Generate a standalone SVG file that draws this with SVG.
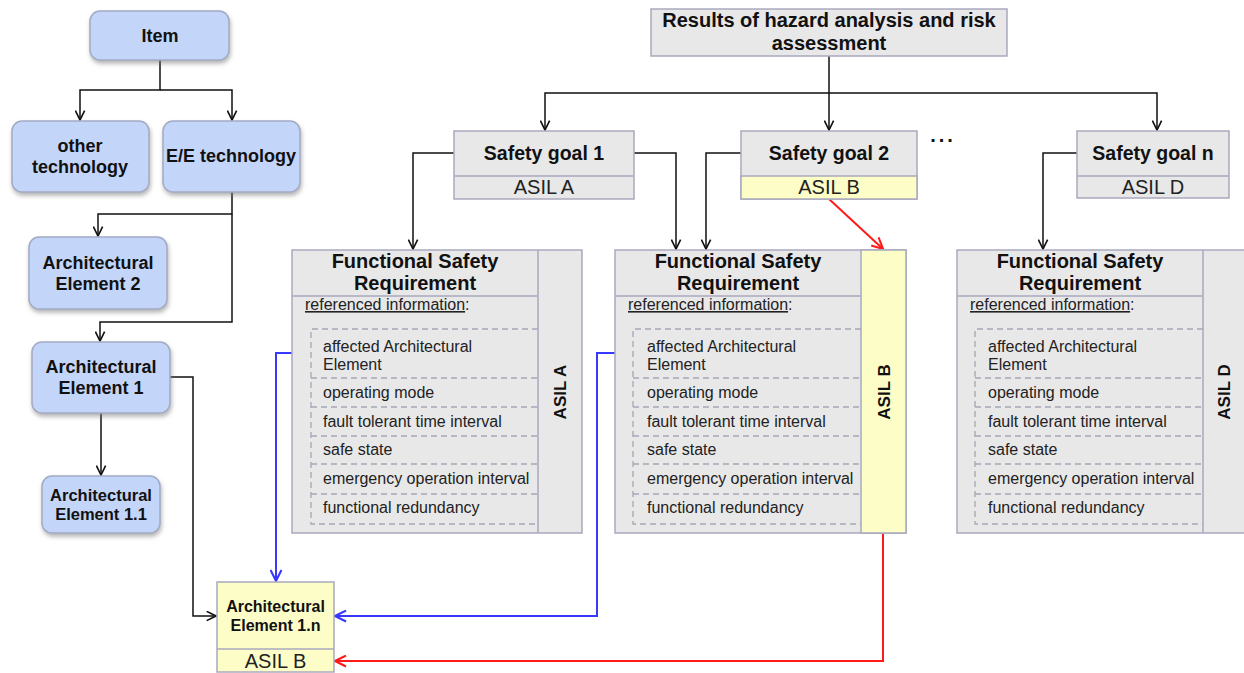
<svg xmlns="http://www.w3.org/2000/svg" width="1244" height="673" viewBox="0 0 1244 673">
  <defs>
    <style>
      .blue { fill: #c4d5fa; stroke: #a3abc4; stroke-width: 1.5; filter: url(#shadow); }
      .gray { fill: #e8e8e8; stroke: #a9a9bf; stroke-width: 1.5; }
      .yel { fill: #fdfdc8; stroke: #a9a9bf; stroke-width: 1.5; }
      .sep { stroke: #a9a9bf; stroke-width: 1.5; fill: none; }
      .dash { stroke: #a6a6b6; stroke-width: 1.3; stroke-dasharray: 6 4; fill: none; }
      text { font-family: "Liberation Sans", Arial, sans-serif; fill: #111; }
      .bt { font-weight: bold; font-size: 18px; text-anchor: middle; }
      .tt { font-weight: bold; font-size: 20px; text-anchor: middle; }
      .asil { font-size: 20px; text-anchor: middle; fill: #222; }
      .item { font-size: 16px; fill: #222; }
      .ref { font-size: 16px; fill: #222; }
      .vasil { font-weight: bold; font-size: 17px; text-anchor: middle; }
      .wire { fill: none; stroke: #111; stroke-width: 1.5; }
      .wb { fill: none; stroke: #3838ff; stroke-width: 2; }
      .wr { fill: none; stroke: #ff1a1a; stroke-width: 2; }
    </style>
    <filter id="shadow" x="-10%" y="-10%" width="125%" height="135%">
      <feDropShadow dx="1" dy="3" stdDeviation="2" flood-color="#7a7a7a" flood-opacity="0.55"/>
    </filter>
    <marker id="ak" viewBox="0 0 10 10" markerUnits="userSpaceOnUse" markerWidth="11" markerHeight="11" refX="9.5" refY="5" orient="auto">
      <path d="M1,0.8 L9.5,5 L1,9.2" fill="none" stroke="#111" stroke-width="1.5"/>
    </marker>
    <marker id="ab" viewBox="0 0 10 10" markerUnits="userSpaceOnUse" markerWidth="13" markerHeight="13" refX="9.5" refY="5" orient="auto">
      <path d="M1,0.8 L9.5,5 L1,9.2" fill="none" stroke="#3838ff" stroke-width="1.6"/>
    </marker>
    <marker id="ar" viewBox="0 0 10 10" markerUnits="userSpaceOnUse" markerWidth="13" markerHeight="13" refX="9.5" refY="5" orient="auto">
      <path d="M1,0.8 L9.5,5 L1,9.2" fill="none" stroke="#ff1a1a" stroke-width="1.6"/>
    </marker>
  </defs>

  <rect width="1244" height="673" fill="#ffffff"/>

  <!-- connectors -->
  <g id="connectors">
    <path class="wire" d="M160,60 V90 H80 V120" marker-end="url(#ak)"/>
    <path class="wire" d="M160,90 H232 V120" marker-end="url(#ak)"/>
    <path class="wire" d="M232,192 V214 H98 V236" marker-end="url(#ak)"/>
    <path class="wire" d="M232,214 V322 H100 V341" marker-end="url(#ak)"/>
    <path class="wire" d="M101,413 V475" marker-end="url(#ak)"/>
    <path class="wire" d="M170,377 H193 V616 H216" marker-end="url(#ak)"/>
    <path class="wire" d="M829,56 V93 H545 V130" marker-end="url(#ak)"/>
    <path class="wire" d="M829,93 V130" marker-end="url(#ak)"/>
    <path class="wire" d="M829,93 H1157 V130" marker-end="url(#ak)"/>
    <path class="wire" d="M454,153 H413 V249" marker-end="url(#ak)"/>
    <path class="wire" d="M634,153 H676 V249" marker-end="url(#ak)"/>
    <path class="wire" d="M741,153 H706 V249" marker-end="url(#ak)"/>
    <path class="wire" d="M1077,153 H1043 V249" marker-end="url(#ak)"/>
    <path class="wr" d="M829,199 L883,249" marker-end="url(#ar)"/>
    <path class="wb" d="M311,353 H276 V581" marker-end="url(#ab)"/>
    <path class="wb" d="M633,353 H597 V616 H335" marker-end="url(#ab)"/>
    <path class="wr" d="M883,533 V661 H335" marker-end="url(#ar)"/>
  </g>

  <!-- item tree -->
  <g id="item">
    <rect class="blue" x="90" y="11" width="139" height="49" rx="10"/>
    <text class="bt" x="160" y="42">Item</text>
  </g>
  <g id="other-technology">
    <rect class="blue" x="12" y="121" width="137" height="71" rx="10"/>
    <text class="bt" x="80" y="152">other</text>
    <text class="bt" x="80" y="173">technology</text>
  </g>
  <g id="ee-technology">
    <rect class="blue" x="163" y="121" width="137" height="71" rx="10"/>
    <text class="bt" x="231" y="162">E/E technology</text>
  </g>
  <g id="arch-element-2">
    <rect class="blue" x="29" y="237" width="138" height="72" rx="10"/>
    <text class="bt" x="98" y="269">Architectural</text>
    <text class="bt" x="98" y="290">Element 2</text>
  </g>
  <g id="arch-element-1">
    <rect class="blue" x="32" y="342" width="138" height="71" rx="10"/>
    <text class="bt" x="101" y="373">Architectural</text>
    <text class="bt" x="101" y="394">Element 1</text>
  </g>
  <g id="arch-element-1-1">
    <rect class="blue" x="42" y="476" width="118" height="57" rx="10"/>
    <text class="bt" x="101" y="501" style="font-size:16.5px">Architectural</text>
    <text class="bt" x="101" y="520" style="font-size:16.5px">Element 1.1</text>
  </g>
  <g id="arch-element-1-n">
    <rect class="yel" x="217" y="582" width="117" height="90"/>
    <line class="sep" x1="217" y1="649" x2="334" y2="649"/>
    <text class="bt" x="275.5" y="612" style="font-size:16px">Architectural</text>
    <text class="bt" x="275.5" y="631" style="font-size:16px">Element 1.n</text>
    <text class="asil" x="275.5" y="668">ASIL B</text>
  </g>

  <!-- hazard analysis and safety goals -->
  <g id="hara-results">
    <rect class="gray" x="651" y="9" width="356" height="47"/>
    <text class="bt" x="829" y="27" style="font-size:20px">Results of hazard analysis and risk</text>
    <text class="bt" x="829" y="50" style="font-size:20px">assessment</text>
  </g>
  <g id="safety-goal-1">
    <rect class="gray" x="454" y="131" width="180" height="68"/>
    <line class="sep" x1="454" y1="176" x2="634" y2="176"/>
    <text class="tt" x="544" y="160" style="font-size:19.5px">Safety goal 1</text>
    <text class="asil" x="544" y="194">ASIL A</text>
  </g>
  <g id="safety-goal-2">
    <rect class="gray" x="741" y="131" width="176" height="68"/>
    <rect class="yel" x="741" y="176" width="176" height="23"/>
    <text class="tt" x="829" y="160" style="font-size:19.5px">Safety goal 2</text>
    <text class="asil" x="829" y="194">ASIL B</text>
  </g>
  <g id="ellipsis">
    <text x="943" y="142" style="font-size:20px;font-weight:bold;text-anchor:middle;letter-spacing:3px">...</text>
  </g>
  <g id="safety-goal-n">
    <rect class="gray" x="1077" y="131" width="152" height="67"/>
    <line class="sep" x1="1077" y1="176" x2="1229" y2="176"/>
    <text class="tt" x="1153" y="160" style="font-size:19.5px">Safety goal n</text>
    <text class="asil" x="1153" y="194">ASIL D</text>
  </g>

  <!-- functional safety requirement 1 -->
  <g id="fsr-1">
    <rect class="gray" x="292" y="250" width="290" height="283"/>
    <line class="sep" x1="538" y1="250" x2="538" y2="533"/>
    <line class="sep" x1="292" y1="296" x2="538" y2="296"/>
    <text class="tt" x="415" y="268">Functional Safety</text>
    <text class="tt" x="415" y="290">Requirement</text>
    <text class="ref" x="305" y="310"><tspan text-decoration="underline">referenced information</tspan>:</text>
    <path class="dash" d="M538,329 H311 V524 H538 M311,378 H538 M311,407 H538 M311,436 H538 M311,464 H538 M311,494 H538"/>
    <text class="item" x="323" y="352">affected Architectural</text>
    <text class="item" x="323" y="370">Element</text>
    <text class="item" x="323" y="398">operating mode</text>
    <text class="item" x="323" y="427">fault tolerant time interval</text>
    <text class="item" x="323" y="455">safe state</text>
    <text class="item" x="323" y="484">emergency operation interval</text>
    <text class="item" x="323" y="513">functional redundancy</text>
    <text class="vasil" transform="translate(560,392) rotate(-90)" y="6">ASIL A</text>
  </g>

  <!-- functional safety requirement 2 -->
  <g id="fsr-2">
    <rect class="gray" x="615" y="250" width="291" height="283"/>
    <rect class="yel" x="861" y="250" width="45" height="283"/>
    <line class="sep" x1="615" y1="296" x2="861" y2="296"/>
    <text class="tt" x="738" y="268">Functional Safety</text>
    <text class="tt" x="738" y="290">Requirement</text>
    <text class="ref" x="628" y="310"><tspan text-decoration="underline">referenced information</tspan>:</text>
    <path class="dash" d="M861,329 H633 V524 H861 M633,378 H861 M633,407 H861 M633,436 H861 M633,464 H861 M633,494 H861"/>
    <text class="item" x="647" y="352">affected Architectural</text>
    <text class="item" x="647" y="370">Element</text>
    <text class="item" x="647" y="398">operating mode</text>
    <text class="item" x="647" y="427">fault tolerant time interval</text>
    <text class="item" x="647" y="455">safe state</text>
    <text class="item" x="647" y="484">emergency operation interval</text>
    <text class="item" x="647" y="513">functional redundancy</text>
    <text class="vasil" transform="translate(883.5,392) rotate(-90)" y="6">ASIL B</text>
  </g>

  <!-- functional safety requirement n -->
  <g id="fsr-n">
    <rect class="gray" x="957" y="250" width="290" height="283"/>
    <line class="sep" x1="1203" y1="250" x2="1203" y2="533"/>
    <line class="sep" x1="957" y1="296" x2="1203" y2="296"/>
    <text class="tt" x="1080" y="268">Functional Safety</text>
    <text class="tt" x="1080" y="290">Requirement</text>
    <text class="ref" x="970" y="310"><tspan text-decoration="underline">referenced information</tspan>:</text>
    <path class="dash" d="M1203,329 H975 V524 H1203 M975,378 H1203 M975,407 H1203 M975,436 H1203 M975,464 H1203 M975,494 H1203"/>
    <text class="item" x="988" y="352">affected Architectural</text>
    <text class="item" x="988" y="370">Element</text>
    <text class="item" x="988" y="398">operating mode</text>
    <text class="item" x="988" y="427">fault tolerant time interval</text>
    <text class="item" x="988" y="455">safe state</text>
    <text class="item" x="988" y="484">emergency operation interval</text>
    <text class="item" x="988" y="513">functional redundancy</text>
    <text class="vasil" transform="translate(1224,392) rotate(-90)" y="6">ASIL D</text>
  </g>
</svg>
